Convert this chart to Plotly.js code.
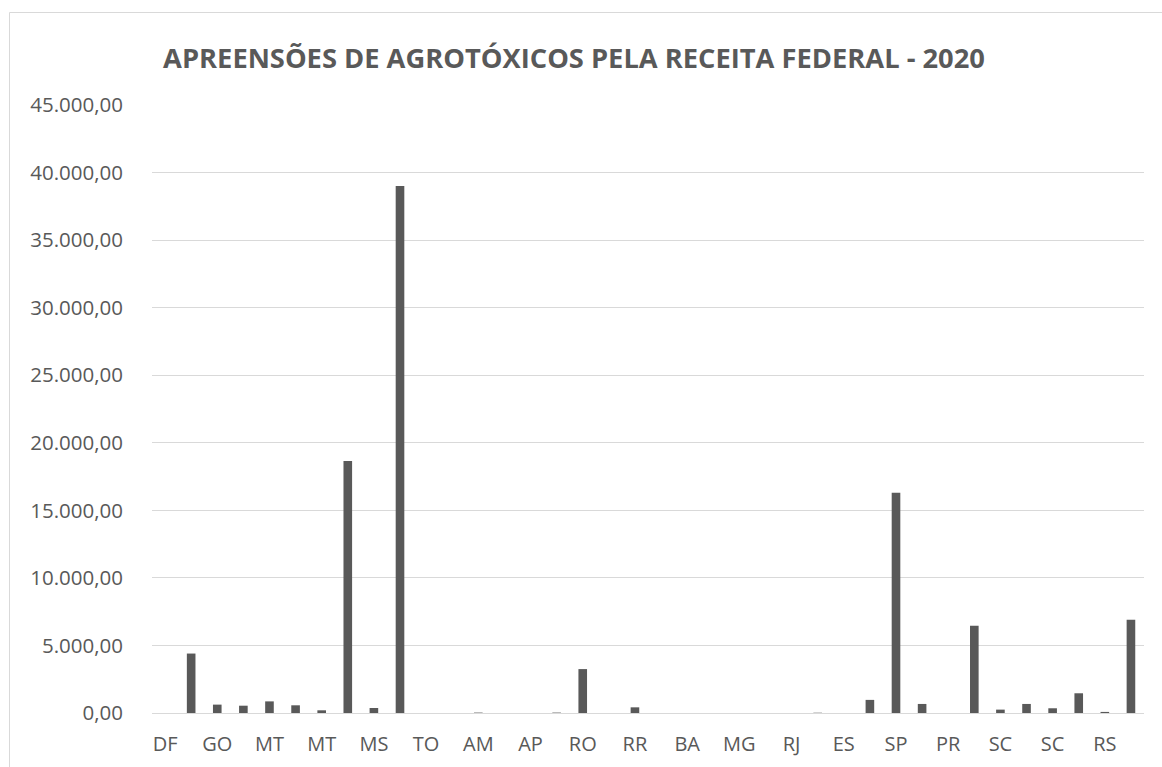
<!DOCTYPE html>
<html>
<head>
<meta charset="utf-8">
<script src="https://cdn.plot.ly/plotly-3.0.1.min.js"></script>
<style>
html,body{margin:0;padding:0;background:#fff;overflow:hidden;}
#chart{width:1162px;height:767px;}
</style>
</head>
<body>
<div id="chart"></div>
<script>
// Tick labels shown under every other bar (Excel skipped alternate labels)
const labels = ["DF","GO","MT","MT","MS","TO","AM","AP","RO","RR","BA","MG","RJ","ES","SP","PR","SC","SC","RS"];
// Seizure values, one per bar (38 bars)
const values = [
  0, 4400, 620, 540, 860, 570, 200, 18650, 370, 39000,
  0, 0, 30, 0, 0, 30, 3250, 0, 420, 0,
  0, 0, 0, 0, 0, 20, 0, 970, 16300, 670,
  0, 6450, 250, 670, 350, 1460, 80, 6900
];
const yTicks = [0, 5000, 10000, 15000, 20000, 25000, 30000, 35000, 40000, 45000];

const xs = values.map((v, i) => i);
const tickvals = labels.map((l, i) => i * 2);

const trace = {
  type: 'bar',
  x: xs,
  y: values,
  marker: {color: '#595959'},
  hoverinfo: 'y'
};

const layout = {
  width: 1162,
  height: 767,
  margin: {l: 152, r: 18, t: 105, b: 54},
  paper_bgcolor: '#ffffff',
  plot_bgcolor: '#ffffff',
  separators: ',.',
  bargap: 0.67,
  showlegend: false,
  font: {family: '"Open Sans", sans-serif', color: '#595959'},
  title: {
    text: '<b>APREENSÕES DE AGROTÓXICOS PELA RECEITA FEDERAL - 2020</b>',
    font: {family: '"Open Sans", sans-serif', size: 27.3, color: '#595959'},
    xref: 'container', x: 0.494, xanchor: 'center',
    yref: 'container', y: 1 - 58.5 / 767, yanchor: 'middle'
  },
  xaxis: {
    range: [-0.5, values.length - 0.5],
    tickmode: 'array',
    tickvals: tickvals,
    ticktext: labels,
    tickfont: {size: 20, color: '#595959'},
    showgrid: false,
    zeroline: false,
    showline: true,
    linecolor: '#d9d9d9',
    linewidth: 1,
    ticks: '',
    ticklabelstandoff: 13,
    fixedrange: true
  },
  yaxis: {
    range: [0, 45000],
    tickmode: 'array',
    tickvals: yTicks,
    tickformat: ',.2f',
    tickfont: {size: 20.5, color: '#595959'},
    showgrid: true,
    gridcolor: '#d9d9d9',
    gridwidth: 1,
    zeroline: true,
    zerolinecolor: '#d9d9d9',
    zerolinewidth: 1,
    showline: false,
    ticks: '',
    ticklabelstandoff: 28,
    fixedrange: true
  },
  shapes: [{
    type: 'rect',
    xref: 'paper', yref: 'paper',
    x0: (9.5 - 152) / 992, x1: (1200 - 152) / 992,
    y0: (713 - 800) / 608, y1: (713 - 12.5) / 608,
    line: {color: '#d9d9d9', width: 1},
    fillcolor: 'rgba(0,0,0,0)',
    layer: 'below'
  }]
};

Plotly.newPlot('chart', [trace], layout, {staticPlot: true, displayModeBar: false});
</script>
</body>
</html>
